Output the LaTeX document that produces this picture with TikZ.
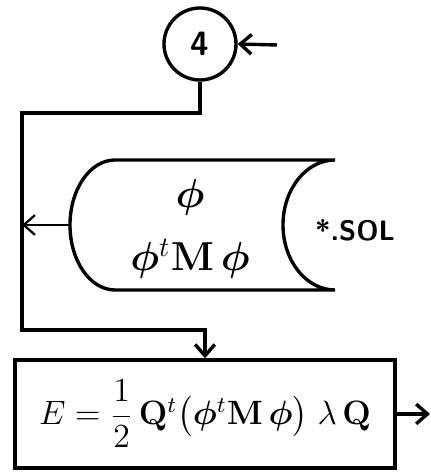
\documentclass[tikz,border=0pt]{standalone}
\usepackage{amsmath}
\usepackage{bm}
\usepackage{tikz}
\usetikzlibrary{positioning, arrows.meta}
\definecolor{ink}{HTML}{000000}
\definecolor{paper}{HTML}{FFFFFF}

\begin{document}
\begin{tikzpicture}[x=0.0125cm, y=0.0125cm, line width=1.2pt, draw=ink,
    flow/.style={-{Straight Barb[length=4pt, width=7pt]}, line width=1.2pt}]
  \useasboundingbox[fill=paper] (0,0) rectangle (431,473);

  % connector circle
  \node[circle, draw, line width=1.2pt, minimum size=0.9cm, inner sep=0pt,
        font=\sffamily\bfseries\large] (c4) at (200,429) {4};
  \coordinate (in4) at (277,428);
  \draw[flow] (in4) -- (c4.east);

  % stored data *.SOL
  \draw[line width=1.2pt] (115,313) -- (335,313)
    arc[start angle=90, end angle=270, x radius=52, y radius=65]
    -- (115,183)
    arc[start angle=270, end angle=90, x radius=45, y radius=65] -- cycle;
  \coordinate (solL) at (70,248);
  \node[font=\Large] (phi) at (190,276) {$\bm{\phi}$};
  \node[font=\Large, below=0.02cm of phi] (phiMphi) {$\bm{\phi}^{t}\mathbf{M}\,\bm{\phi}$};
  \node[font=\sffamily\bfseries] (sol) at (355,243) {*.SOL};

  % energy box
  \node[draw, line width=1.2pt, minimum width=4.75cm, minimum height=1.35cm,
        font=\large] (box) at (205,59)
        {$E=\dfrac{1}{2}\,\mathbf{Q}^{t}\bigl(\bm{\phi}^{t}\mathbf{M}\,\bm{\phi}\bigr)\;\lambda\,\mathbf{Q}$};
  \coordinate (out) at (430,61);

  % flow lines
  \coordinate (bendA) at (22,360);
  \coordinate (bendB) at (22,143);
  \draw[flow] (c4.south) |- (bendA) -- (bendB) -| (box.north);
  \draw[flow, line width=0.8pt] (solL) -- (solL -| bendA);
  \draw[flow] (box.east) -- (out |- box.east);
\end{tikzpicture}
\end{document}
